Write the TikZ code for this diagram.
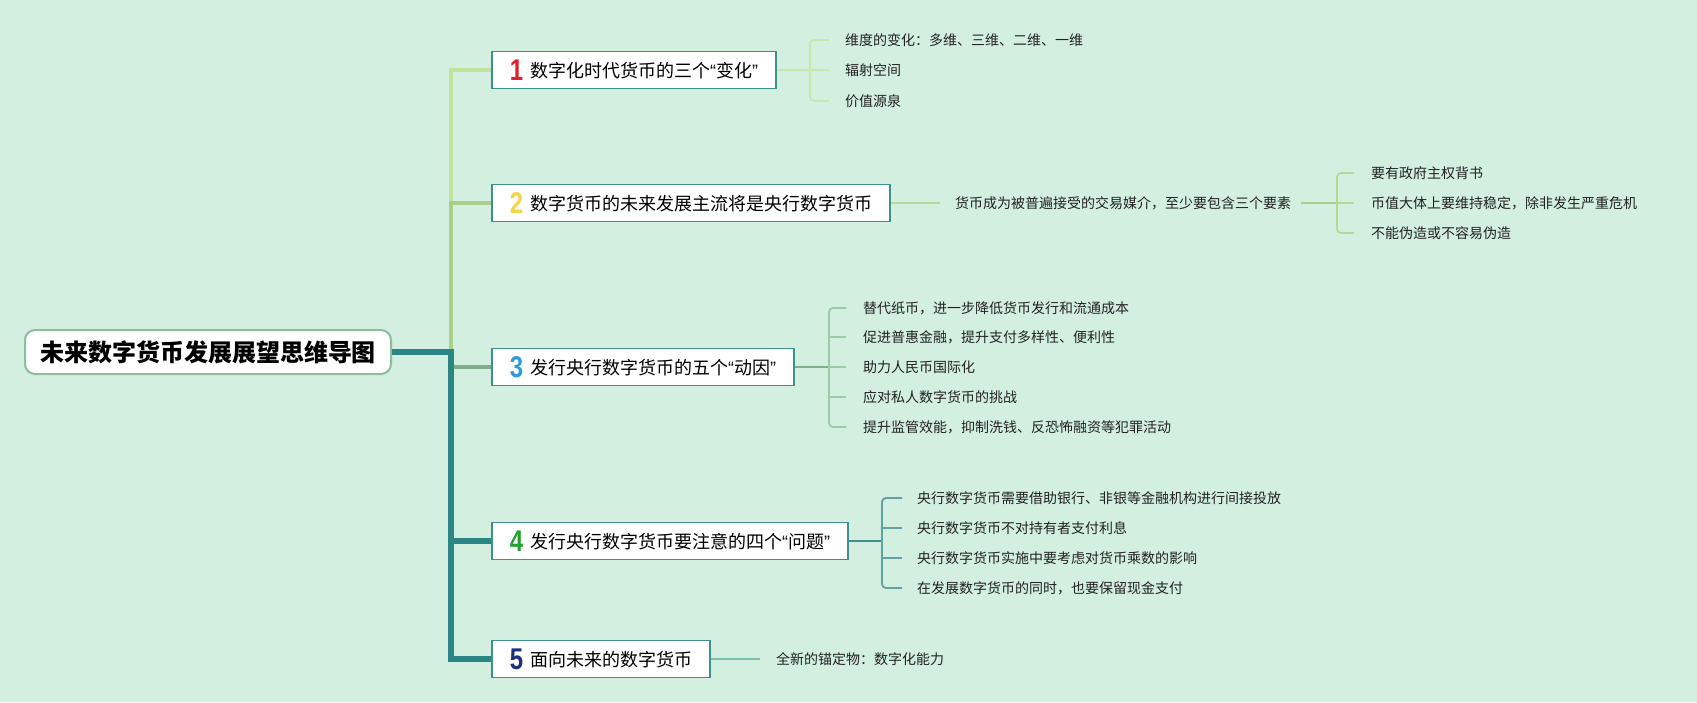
\documentclass[tikz,border=0pt]{standalone}
\usepackage{fontspec}
\usepackage{graphicx}
\setmainfont{Noto Sans CJK SC}
\newfontfamily\numf{Liberation Sans}
\newfontfamily\latf{Liberation Sans}
\definecolor{bgc}{HTML}{D3EFE0}
\definecolor{trunkc}{HTML}{2B8585}
\definecolor{boxb}{HTML}{3F8F8F}
\definecolor{rootb}{HTML}{8DBE9B}
\definecolor{bonec}{HTML}{C2E09E}
\definecolor{btwoc}{HTML}{A9D08B}
\definecolor{bthreec}{HTML}{7DAF8B}
\definecolor{kone}{HTML}{C9E7AD}
\definecolor{ktwo}{HTML}{B4D896}
\definecolor{kthree}{HTML}{9CC9A6}
\definecolor{kfour}{HTML}{5FA3A0}
\definecolor{kfive}{HTML}{7BBFB3}
\definecolor{txtc}{HTML}{222222}
\definecolor{nred}{HTML}{E0202E}
\definecolor{nyellow}{HTML}{F5D44B}
\definecolor{nblue}{HTML}{2B9BDE}
\definecolor{ngreen}{HTML}{23A02F}
\definecolor{nnavy}{HTML}{1D2F7E}
\newcommand\oqt{{\latf “}}
\newcommand\cqt{{\latf ”}}
\newcommand\numb[2]{\raisebox{-2.5pt}{\color{#1}\fontsize{30}{30}\selectfont\numf\bfseries\scalebox{0.8}[1]{#2}}\hspace{7pt}}
\begin{document}
\begin{tikzpicture}[x=1pt,y=-1pt,
  rootnode/.style={draw=rootb, line width=2pt, fill=white, rounded corners=10pt,
    minimum height=44pt, inner xsep=15pt, inner ysep=0pt,
    font=\fontsize{24}{28}\selectfont\bfseries, text=black},
  topic/.style={draw=boxb, line width=1.6pt, fill=white, minimum height=37pt,
    inner xsep=18pt, inner ysep=0pt, anchor=west,
    font=\fontsize{18}{20}\selectfont, text=black},
  leaf/.style={anchor=west, inner sep=0pt, font=\fontsize{14}{16}\selectfont, text=txtc},
  trunk/.style={draw=trunkc, line width=6pt, line join=miter},
  brk/.style={line width=1.8pt, rounded corners=4pt}
]
\useasboundingbox (0,0) rectangle (1697,702);
\fill[bgc] (0,0) rectangle (1697,702);

% root and topics
\node[rootnode] (root) at (208,352) {未来数字货币发展展望思维导图};
\node[topic] (n1) at (491,70) {\numb{nred}{1}数字化时代货币的三个\oqt 变化\cqt\hspace{4pt}};
\node[topic] (n2) at (491,203) {\numb{nyellow}{2}数字货币的未来发展主流将是央行数字货币\hspace{3pt}};
\node[topic] (n3) at (491,367) {\numb{nblue}{3}发行央行数字货币的五个\oqt 动因\cqt\hspace{4pt}};
\node[topic] (n4) at (491,541) {\numb{ngreen}{4}发行央行数字货币要注意的四个\oqt 问题\cqt\hspace{4pt}};
\node[topic] (n5) at (491,659) {\numb{nnavy}{5}面向未来的数字货币};

% leaves
\node[leaf] (c11) at (845,40) {维度的变化：多维、三维、二维、一维};
\node[leaf] (c12) at (845,70) {辐射空间};
\node[leaf] (c13) at (845,101) {价值源泉};

\node[leaf] (c21) at (955,203) {货币成为被普遍接受的交易媒介，至少要包含三个要素};
\node[leaf] (c211) at (1371,173) {要有政府主权背书};
\node[leaf] (c212) at (1371,203) {币值大体上要维持稳定，除非发生严重危机};
\node[leaf] (c213) at (1371,233) {不能伪造或不容易伪造};

\node[leaf] (c31) at (863,308) {替代纸币，进一步降低货币发行和流通成本};
\node[leaf] (c32) at (863,337) {促进普惠金融，提升支付多样性、便利性};
\node[leaf] (c33) at (863,367) {助力人民币国际化};
\node[leaf] (c34) at (863,397) {应对私人数字货币的挑战};
\node[leaf] (c35) at (863,427) {提升监管效能，抑制洗钱、反恐怖融资等犯罪活动};

\node[leaf] (c41) at (917,498) {央行数字货币需要借助银行、非银等金融机构进行间接投放};
\node[leaf] (c42) at (917,528) {央行数字货币不对持有者支付利息};
\node[leaf] (c43) at (917,558) {央行数字货币实施中要考虑对货币乘数的影响};
\node[leaf] (c44) at (917,588) {在发展数字货币的同时，也要保留现金支付};

\node[leaf] (c51) at (776,659) {全新的锚定物：数字化能力};

% main branches
\coordinate (J) at (451,352);
\draw[draw=bonec, line width=3.5pt] (J |- n2.west) -- (J |- n1.west) -- (n1.west);
\draw[draw=btwoc, line width=3.5pt] (J) -- (J |- n2.west) -- (n2.west);
\draw[draw=bthreec, line width=3.5pt] (J |- n3.west) -- (n3.west);
\draw[trunk] (root.east) -- (J) -- (J |- n5.west) -- (n5.west);
\draw[trunk] (J |- n4.west) -- (n4.west);

% topic 1 children
\coordinate (k1) at (810,70);
\draw[draw=kone, line width=1.8pt] (n1.east) -- (k1) -- ([xshift=-16pt]c12.west);
\draw[draw=kone, brk] ([xshift=-16pt]c11.west) -| (k1) |- ([xshift=-16pt]c13.west);

% topic 2 children
\draw[draw=ktwo, line width=1.8pt] (n2.east) -- ([xshift=-15pt]c21.west);
\coordinate (k2) at (1337,203);
\draw[draw=btwoc, line width=2.5pt] ([xshift=10pt]c21.east) -- (k2);
\draw[draw=ktwo, line width=1.8pt] (k2) -- ([xshift=-17pt]c212.west);
\draw[draw=ktwo, brk] ([xshift=-17pt]c211.west) -| (k2) |- ([xshift=-17pt]c213.west);

% topic 3 children
\coordinate (k3) at (829,367);
\draw[draw=bthreec, line width=2pt] (n3.east) -- (k3);
\draw[draw=kthree, line width=1.8pt] (k3) -- ([xshift=-17pt]c33.west);
\draw[draw=kthree, brk] ([xshift=-17pt]c31.west) -| (k3) |- ([xshift=-17pt]c35.west);
\draw[draw=kthree, line width=1.8pt] (k3 |- c32.west) -- ([xshift=-17pt]c32.west);
\draw[draw=kthree, line width=1.8pt] (k3 |- c34.west) -- ([xshift=-17pt]c34.west);

% topic 4 children
\coordinate (k4) at (882,541);
\draw[draw=boxb, line width=2pt] (n4.east) -- (k4);
\draw[draw=kfour, brk] ([xshift=-15pt]c41.west) -| (k4) |- ([xshift=-15pt]c44.west);
\draw[draw=kfour, line width=1.8pt] (k4 |- c42.west) -- ([xshift=-15pt]c42.west);
\draw[draw=kfour, line width=1.8pt] (k4 |- c43.west) -- ([xshift=-15pt]c43.west);

% topic 5 child
\draw[draw=kfive, line width=1.8pt] (n5.east) -- ([xshift=-16pt]c51.west);
\end{tikzpicture}
\end{document}
